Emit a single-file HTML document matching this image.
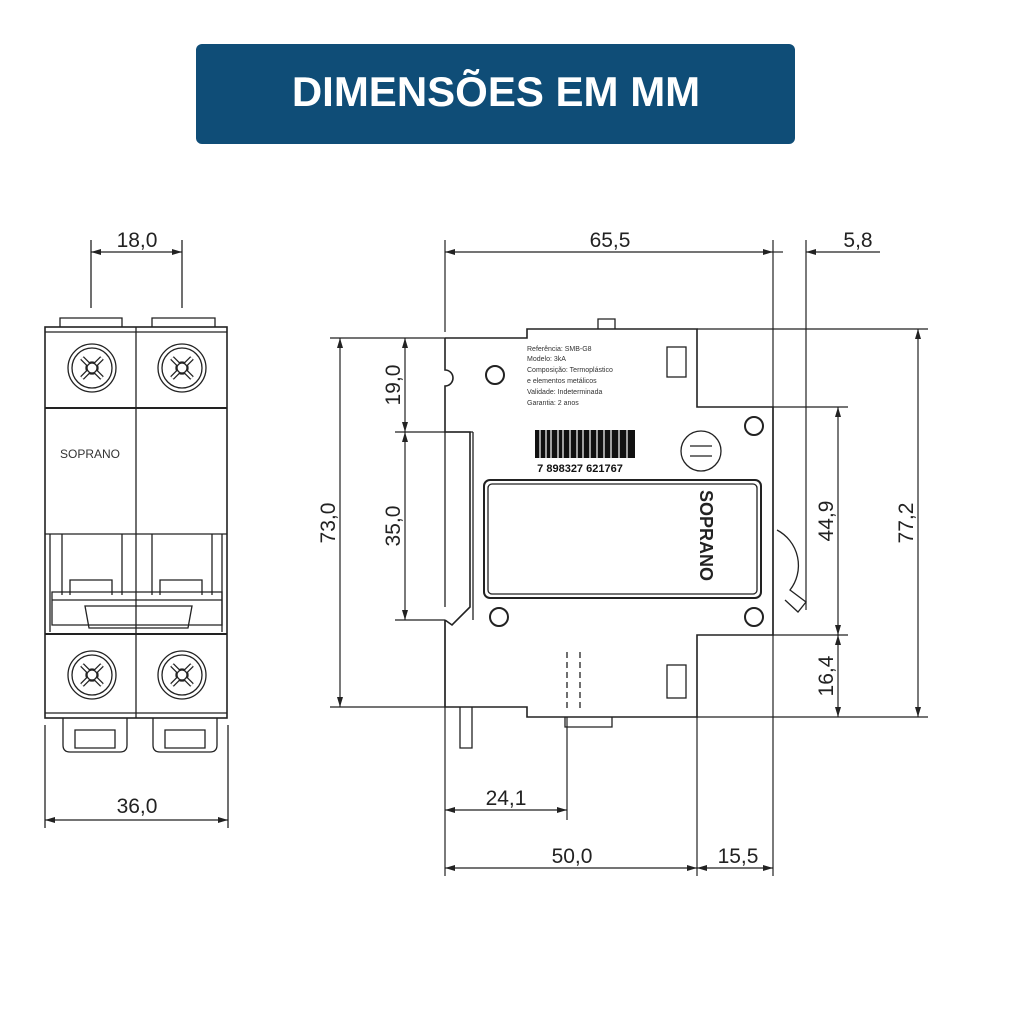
<!DOCTYPE html>
<html><head><meta charset="utf-8"><style>
html,body{margin:0;padding:0;background:#fff;width:1024px;height:1024px;overflow:hidden}
svg{display:block}
text{font-family:"Liberation Sans",sans-serif}
</style></head><body>
<svg width="1024" height="1024" viewBox="0 0 1024 1024" xmlns="http://www.w3.org/2000/svg">
<defs>
<marker id="a" markerWidth="10" markerHeight="6" refX="10" refY="3" orient="auto-start-reverse" markerUnits="userSpaceOnUse"><path d="M0,0 L10,3 L0,6 z" fill="#222"/></marker>
</defs>
<rect x="196" y="44" width="599" height="100" rx="6" fill="#0f4d77"/>
<text x="496" y="106" text-anchor="middle" font-size="42" font-weight="bold" fill="#fff">DIMENSÕES EM MM</text>

<g stroke="#222" stroke-width="1.3" fill="none">
<line x1="91" y1="240" x2="91" y2="308"/><line x1="182" y1="240" x2="182" y2="308"/>
<line x1="91" y1="252" x2="182" y2="252" marker-start="url(#a)" marker-end="url(#a)"/>
<path d="M60,327 V318 H122 V327 M152,327 V318 H215 V327"/>
<rect x="45" y="327" width="182" height="391" stroke-width="1.6"/>
<line x1="45" y1="332" x2="227" y2="332"/>
<line x1="136" y1="327" x2="136" y2="718"/>
<line x1="45" y1="408" x2="227" y2="408" stroke-width="2"/>
<line x1="45" y1="534" x2="227" y2="534"/>
<line x1="45" y1="634" x2="227" y2="634" stroke-width="2"/>
<line x1="45" y1="713" x2="227" y2="713"/>
<path d="M50,534 V632 M222,534 V632 M62,534 V595 M122,534 V595 M152,534 V595 M212,534 V595 M70,595 V580 H112 V595 M160,595 V580 H202 V595"/>
<path d="M52,592 H222 V600 H52 z M52,600 V625 H222 V600 M85,606 H192 L188,628 H89 z"/>
<g id="s"><circle cx="92" cy="368" r="24"/><circle cx="92" cy="368" r="20"/><circle cx="92" cy="368" r="6"/><path d="M82,358 L102,378 M102,358 L82,378" stroke-width="5" stroke="#222"/><path d="M82,358 L102,378 M102,358 L82,378" stroke-width="2.5" stroke="#fff"/><circle cx="92" cy="368" r="5" fill="#fff"/></g>
<use href="#s" x="90"/><use href="#s" y="307"/><use href="#s" x="90" y="307"/>
<path d="M63,718 V745 Q63,752 70,752 H120 Q127,752 127,745 V718 M75,730 H115 V748 H75z M153,718 V745 Q153,752 160,752 H210 Q217,752 217,745 V718 M165,730 H205 V748 H165z"/>
<line x1="45" y1="725" x2="45" y2="828"/><line x1="228" y1="725" x2="228" y2="828"/>
<line x1="45" y1="820" x2="228" y2="820" marker-start="url(#a)" marker-end="url(#a)"/>

<path stroke-width="1.6" d="M445,338 H527 V329 H697 V407 H773 V635 H697 V717 H527 V707 H445 V620 M445,338 V370 A8,8 0 0 1 445,386 V432 H470 V607 L452,625 L445,620"/>
<path d="M445,432 V607 M473,432 V620 M598,329 V319 H615 V329"/>
<path d="M460,707 V748 H472 V707 M565,717 V727 H612 V717"/>
<path d="M567,652 V710" stroke-dasharray="6,4"/><path d="M580,652 V710" stroke-dasharray="6,4"/>
<rect x="667" y="347" width="19" height="30"/><rect x="667" y="665" width="19" height="33"/>
<rect x="484" y="480" width="277" height="118" rx="6" stroke-width="2"/>
<rect x="488" y="484" width="269" height="110" rx="4"/>
<circle cx="701" cy="451" r="20"/><path d="M690,446 H712 M690,456 H712"/>
<path d="M777,530 A40,40 0 0 1 790,590 L806,602 L798,612 L785,600"/>
<g stroke-width="2"><circle cx="495" cy="375" r="9"/><circle cx="754" cy="426" r="9"/><circle cx="499" cy="617" r="9"/><circle cx="754" cy="617" r="9"/></g>
</g>
<g fill="#333" font-size="7">
<text x="527" y="351">Referência: SMB-G8</text><text x="527" y="361">Modelo: 3kA</text>
<text x="527" y="372">Composição: Termoplástico</text><text x="527" y="383">e elementos metálicos</text>
<text x="527" y="394">Validade: Indeterminada</text><text x="527" y="405">Garantia: 2 anos</text>
</g>
<g fill="#111"><rect x="535" y="430" width="100" height="28"/></g>
<g stroke="#fff" stroke-width="1.2"><path d="M540,430 V458 M546,430 V458 M551,430 V458 M558,430 V458 M563,430 V458 M570,430 V458 M577,430 V458 M583,430 V458 M590,430 V458 M597,430 V458 M604,430 V458 M611,430 V458 M619,430 V458 M627,430 V458"/></g>
<text x="580" y="472" font-size="11" text-anchor="middle" fill="#111" font-weight="bold">7 898327 621767</text>
<text transform="translate(700,490) rotate(90)" font-size="18" font-weight="bold" fill="#222">SOPRANO</text>
<text x="90" y="458" font-size="12" text-anchor="middle" fill="#333">SOPRANO</text>

<g stroke="#222" stroke-width="1.2" fill="none">
<line x1="445" y1="240" x2="445" y2="332"/><line x1="773" y1="240" x2="773" y2="640"/><line x1="806" y1="240" x2="806" y2="610"/>
<line x1="445" y1="252" x2="773" y2="252" marker-start="url(#a)" marker-end="url(#a)"/>
<line x1="773" y1="252" x2="783" y2="252"/>
<line x1="806" y1="252" x2="880" y2="252" marker-start="url(#a)"/>
<line x1="330" y1="338" x2="445" y2="338"/><line x1="330" y1="707" x2="445" y2="707"/>
<line x1="395" y1="432" x2="473" y2="432"/><line x1="395" y1="620" x2="445" y2="620"/>
<line x1="340" y1="338" x2="340" y2="707" marker-start="url(#a)" marker-end="url(#a)"/>
<line x1="405" y1="338" x2="405" y2="432" marker-start="url(#a)" marker-end="url(#a)"/>
<line x1="405" y1="432" x2="405" y2="620" marker-start="url(#a)" marker-end="url(#a)"/>
<line x1="697" y1="329" x2="928" y2="329"/><line x1="697" y1="717" x2="928" y2="717"/>
<line x1="773" y1="407" x2="848" y2="407"/><line x1="773" y1="635" x2="848" y2="635"/>
<line x1="918" y1="329" x2="918" y2="717" marker-start="url(#a)" marker-end="url(#a)"/>
<line x1="838" y1="407" x2="838" y2="635" marker-start="url(#a)" marker-end="url(#a)"/>
<line x1="838" y1="635" x2="838" y2="717" marker-start="url(#a)" marker-end="url(#a)"/>
<line x1="445" y1="620" x2="445" y2="876"/><line x1="567" y1="717" x2="567" y2="820"/>
<line x1="697" y1="717" x2="697" y2="876"/><line x1="773" y1="640" x2="773" y2="876"/>
<line x1="445" y1="810" x2="567" y2="810" marker-start="url(#a)" marker-end="url(#a)"/>
<line x1="445" y1="868" x2="697" y2="868" marker-start="url(#a)" marker-end="url(#a)"/>
<line x1="697" y1="868" x2="773" y2="868" marker-start="url(#a)" marker-end="url(#a)"/>
</g>
<g font-size="21" fill="#222" text-anchor="middle">
<text x="137" y="247">18,0</text><text x="137" y="813">36,0</text>
<text x="610" y="247">65,5</text><text x="858" y="247">5,8</text>
<text x="506" y="805">24,1</text><text x="572" y="863">50,0</text><text x="738" y="863">15,5</text>
<text transform="translate(335,523) rotate(-90)">73,0</text>
<text transform="translate(400,385) rotate(-90)">19,0</text>
<text transform="translate(400,526) rotate(-90)">35,0</text>
<text transform="translate(833,521) rotate(-90)">44,9</text>
<text transform="translate(833,676) rotate(-90)">16,4</text>
<text transform="translate(913,523) rotate(-90)">77,2</text>
</g>
</svg>
</body></html>
